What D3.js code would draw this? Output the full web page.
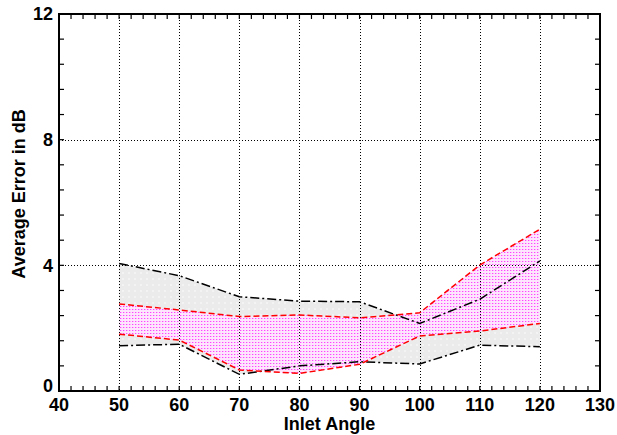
<!DOCTYPE html>
<html>
<head>
<meta charset="utf-8">
<script src="https://cdn.jsdelivr.net/npm/d3@7"></script>
<style>
  html, body { margin: 0; padding: 0; background: #fff; }
  svg { display: block; }
  text { font-family: "Liberation Sans", Arial, Helvetica, sans-serif; font-weight: bold; fill: #000; }
</style>
</head>
<body>
<svg id="chart" width="617" height="435"></svg>
<script>
// Inlet angles at which the average error was evaluated
const angles = [50, 60, 70, 80, 90, 100, 110, 120];
// Envelope of the first method (black dash-dot bounds, grey band)
const blackUpper = [4.06, 3.67, 3.00, 2.86, 2.84, 2.15, 2.92, 4.14];
const blackLower = [1.44, 1.49, 0.53, 0.80, 0.93, 0.86, 1.46, 1.41];
// Envelope of the second method (red dashed bounds, magenta band)
const redUpper = [2.77, 2.58, 2.37, 2.42, 2.33, 2.49, 4.01, 5.15];
const redLower = [1.81, 1.62, 0.67, 0.56, 0.85, 1.75, 1.91, 2.15];
// Axis ticks
const xTickLabels = [40, 50, 60, 70, 80, 90, 100, 110, 120, 130];
const yTickLabels = [0, 4, 8, 12];

const svg = d3.select("#chart");
const plotL = 59, plotR = 600, plotT = 14, plotB = 391;

const x = d3.scaleLinear().domain([40, 130]).range([plotL, plotR]);
const y = d3.scaleLinear().domain([0, 12]).range([plotB, plotT]);

// Fill patterns
const defs = svg.append("defs");
const pat = defs.append("pattern")
  .attr("id", "magentaDots").attr("patternUnits", "userSpaceOnUse")
  .attr("width", 3).attr("height", 3);
pat.append("rect").attr("width", 3).attr("height", 3).attr("fill", "#fde6fd");
pat.append("rect").attr("x", 0).attr("y", 0).attr("width", 1).attr("height", 1).attr("fill", "#ff44ff");
pat.append("rect").attr("x", 1).attr("y", 0).attr("width", 1).attr("height", 1).attr("fill", "#ffb0ff");

const greyPat = defs.append("pattern")
  .attr("id", "greyDots").attr("patternUnits", "userSpaceOnUse")
  .attr("width", 6).attr("height", 6);
greyPat.append("rect").attr("width", 6).attr("height", 6).attr("fill", "#ebebeb");
greyPat.append("rect").attr("x", 2).attr("y", 2).attr("width", 2).attr("height", 2).attr("fill", "#f3f3f3");

const rowsBlack = angles.map((a, i) => ({ a, lo: blackLower[i], hi: blackUpper[i] }));
const rowsRed = angles.map((a, i) => ({ a, lo: redLower[i], hi: redUpper[i] }));

const area = d3.area().x(d => x(d.a)).y0(d => y(d.lo)).y1(d => y(d.hi));

svg.append("path").datum(rowsBlack).attr("d", area).attr("fill", "url(#greyDots)");
svg.append("path").datum(rowsRed).attr("d", area).attr("fill", "url(#magentaDots)");

// Dotted grid at the major ticks
const grid = svg.append("g").attr("stroke", "#000").attr("stroke-width", 1)
  .attr("stroke-dasharray", "1,2");
grid.selectAll("line.v").data(xTickLabels.filter(v => v > 40 && v < 130)).join("line")
  .attr("x1", d => Math.round(x(d)) + 0.5).attr("x2", d => Math.round(x(d)) + 0.5)
  .attr("y1", plotT).attr("y2", plotB);
grid.selectAll("line.h").data(yTickLabels.filter(v => v > 0 && v < 12)).join("line")
  .attr("x1", plotL).attr("x2", plotR)
  .attr("y1", d => Math.round(y(d)) + 0.5).attr("y2", d => Math.round(y(d)) + 0.5);

// Bounds of each band
const line = (vals) => d3.line().x((d, i) => x(angles[i])).y(d => y(d))(vals);
[[blackUpper, "#000", "9,3,2,3"], [blackLower, "#000", "9,3,2,3"],
 [redUpper, "#ff0000", "6,3"], [redLower, "#ff0000", "6,3"]].forEach(([vals, col, dash]) => {
  svg.append("path").attr("d", line(vals)).attr("fill", "none")
    .attr("stroke", col).attr("stroke-width", 1.5).attr("stroke-dasharray", dash);
});

// Inward ticks on all four sides
const tickLen = 5;
const xMinor = d3.range(40, 130.01, 2);
const yMinor = d3.range(0, 12.01, 0.8);
const ticks = svg.append("g").attr("stroke", "#000").attr("stroke-width", 1.2);
ticks.selectAll("line.b").data(xMinor).join("line")
  .attr("x1", d => x(d)).attr("x2", d => x(d)).attr("y1", plotB).attr("y2", plotB - tickLen);
ticks.selectAll("line.t").data(xMinor).join("line")
  .attr("x1", d => x(d)).attr("x2", d => x(d)).attr("y1", plotT).attr("y2", plotT + tickLen);
ticks.selectAll("line.l").data(yMinor).join("line")
  .attr("x1", plotL).attr("x2", plotL + tickLen).attr("y1", d => y(d)).attr("y2", d => y(d));
ticks.selectAll("line.r").data(yMinor).join("line")
  .attr("x1", plotR).attr("x2", plotR - tickLen).attr("y1", d => y(d)).attr("y2", d => y(d));

// Frame
svg.append("rect").attr("x", plotL).attr("y", plotT).attr("width", plotR - plotL).attr("height", plotB - plotT)
  .attr("fill", "none").attr("stroke", "#000").attr("stroke-width", 2);

// Tick labels
svg.append("g").selectAll("text").data(xTickLabels).join("text")
  .attr("x", d => x(d)).attr("y", 411).attr("text-anchor", "middle")
  .attr("font-size", 18).text(d => d);
svg.append("g").selectAll("text").data(yTickLabels).join("text")
  .attr("x", 53).attr("y", d => y(d) + (d === 0 ? -5 : 0)).attr("dy", "0.36em")
  .attr("text-anchor", "end").attr("font-size", 18).text(d => d);

// Axis titles
svg.append("text").attr("x", (plotL + plotR) / 2).attr("y", 430).attr("text-anchor", "middle")
  .attr("font-size", 18).text("Inlet Angle");
svg.append("text").attr("transform", "translate(25,194) rotate(-90)").attr("text-anchor", "middle")
  .attr("font-size", 18).text("Average Error in dB");
</script>
</body>
</html>
